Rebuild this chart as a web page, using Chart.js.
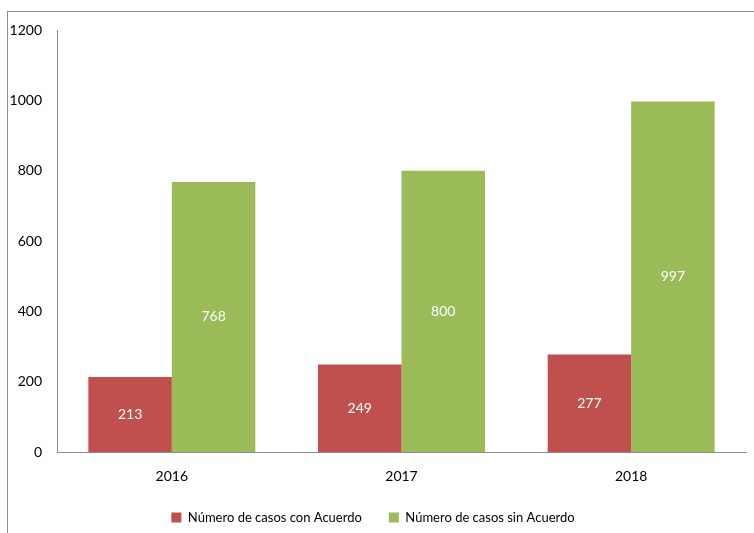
<!DOCTYPE html>
<html>
<head>
<meta charset="utf-8">
<script src="https://cdn.jsdelivr.net/npm/chart.js@4"></script>
<style>
  body { margin: 0; background: #fff; overflow: hidden; }
  #frame { position: absolute; left: 7px; top: 11px; width: 800px; height: 600px; border: 1px solid #8c8c8c; }
  #grafico { position: absolute; left: 0; top: 0; }
</style>
</head>
<body>
<div id="frame"></div>
<canvas id="grafico" width="754" height="534"></canvas>
<script>
const categorias = ['2016', '2017', '2018']
const con_acuerdo = [213, 249, 277]
const sin_acuerdo = [768, 800, 997]
const ticks_y = [0, 200, 400, 600, 800, 1000, 1200]

// etiquetas blancas en el centro de cada barra
const etiquetas = {
    id: 'etiquetas',
    afterDatasetsDraw(chart) {
        const ctx = chart.ctx
        ctx.save()
        ctx.fillStyle = '#ffffff'
        ctx.font = '14px Lato'
        ctx.textAlign = 'center'
        ctx.textBaseline = 'middle'
        chart.data.datasets.forEach((ds, i) => {
            chart.getDatasetMeta(i).data.forEach((bar, j) => {
                const p = bar.getProps(['x', 'y', 'base'], true)
                ctx.fillText(ds.data[j], p.x, (p.y + p.base) / 2)
            })
        })
        ctx.restore()
    }
}

const ctx_grafico = document.getElementById('grafico').getContext('2d')

let grafico = new Chart(ctx_grafico, {
    type: 'bar',
    data: {
        labels: categorias,
        datasets: [{
            label: 'Número de casos con Acuerdo',
            data: con_acuerdo,
            backgroundColor: '#C0504D',
            borderWidth: 0,
            barPercentage: 1,
            categoryPercentage: 0.727
        }, {
            label: 'Número de casos sin Acuerdo',
            data: sin_acuerdo,
            backgroundColor: '#9BBB59',
            borderWidth: 0,
            barPercentage: 1,
            categoryPercentage: 0.727
        }]
    },
    options: {
        responsive: false,
        animation: false,
        layout: { padding: { top: 30, right: 8, left: 0, bottom: 0 } },
        plugins: {
            legend: {
                position: 'bottom',
                labels: {
                    boxWidth: 10,
                    boxHeight: 10,
                    color: '#000',
                    font: { family: 'Lato', size: 13 },
                    padding: 27
                }
            },
            tooltip: { enabled: false },
            title: { display: false }
        },
        scales: {
            x: {
                afterFit: (axis) => { axis.height = 32 },
                grid: { display: false },
                border: { color: '#8c8c8c', width: 1 },
                ticks: { color: '#000', font: { family: 'Lato', size: 14 }, padding: 8 }
            },
            y: {
                min: 0,
                max: 1200,
                afterBuildTicks: (axis) => { axis.ticks = ticks_y.map(v => ({ value: v })) },
                afterFit: (axis) => { axis.width = 57 },
                grid: { display: false },
                border: { color: '#8c8c8c', width: 1 },
                ticks: {
                    color: '#000',
                    font: { family: 'Lato', size: 14 },
                    padding: 7,
                    callback: (v) => String(v)
                }
            }
        }
    },
    plugins: [etiquetas]
})
</script>
</body>
</html>
